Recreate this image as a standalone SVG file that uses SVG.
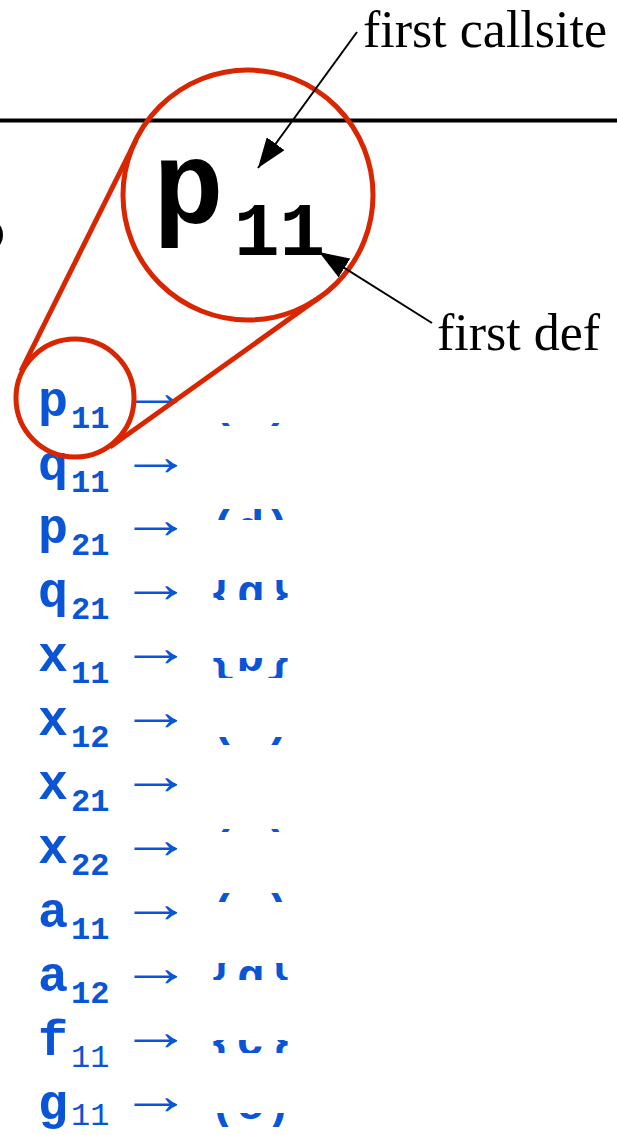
<svg xmlns="http://www.w3.org/2000/svg" width="617" height="1135" viewBox="0 0 617 1135">
<style>
.lbl{font-family:"Liberation Serif","Times New Roman",serif;font-size:52px;fill:#000}
.big{font-family:"Courier New","Liberation Mono",monospace;font-weight:bold;fill:#000}
.var{font-family:"Courier New","Liberation Mono",monospace;font-weight:bold;font-size:50px;fill:#0a54d6}
.sub{font-family:"Courier New","Liberation Mono",monospace;font-weight:bold;font-size:32px;fill:#0a54d6}
.subn{font-family:"Courier New","Liberation Mono",monospace;font-weight:normal;font-size:32px;fill:#0a54d6}
.arr{font-family:"Liberation Serif","Times New Roman",serif;font-size:56px;fill:#0a54d6}
.set{font-family:"Courier New","Liberation Mono",monospace;font-weight:bold;font-size:46px;fill:#0a54d6}
.red{fill:none;stroke:#d92500;stroke-width:5}
.blk{stroke:#000;stroke-width:2;fill:none}
</style>
<defs>
<marker id="ah" viewBox="0 0 30 22" refX="30" refY="11" markerWidth="30" markerHeight="22" markerUnits="userSpaceOnUse" orient="auto">
<path d="M0,0 L30,11 L0,22 z" fill="#000"/>
</marker>
<clipPath id="bands">
<rect x="200" y="423" width="100" height="5"/>
<rect x="200" y="508" width="100" height="12"/>
<rect x="200" y="580" width="100" height="20"/>
<rect x="200" y="658" width="100" height="20"/>
<rect x="200" y="737" width="100" height="9"/>
<rect x="200" y="827" width="100" height="5"/>
<rect x="200" y="890" width="100" height="12"/>
<rect x="200" y="963" width="100" height="17"/>
<rect x="200" y="1040" width="100" height="13"/>
<rect x="200" y="1113" width="100" height="14"/>
</clipPath>
</defs>
<line x1="0" y1="120.5" x2="617" y2="120.5" stroke="#000" stroke-width="4"/>
<ellipse cx="-3" cy="235" rx="6" ry="11" fill="#000"/>
<g id="label-callsite"><text class="lbl" x="363" y="47">first callsite</text></g>
<g id="label-def"><text class="lbl" x="437" y="350">first def</text></g>
<g id="zoom-p11">
<text class="big" x="153" y="223" font-size="118">p</text>
<text class="big" x="234" y="255" font-size="76">11</text>
</g>
<g id="list">
<g id="row-p11"><text class="var" x="38" y="416">p</text><text class="sub" x="71" y="428">11</text><text class="arr" transform="translate(120,411) scale(1.29,1)">→</text></g>
<g id="row-q11"><text class="var" x="38" y="480">q</text><text class="sub" x="71" y="492">11</text><text class="arr" transform="translate(120,475) scale(1.29,1)">→</text></g>
<g id="row-p21"><text class="var" x="38" y="543">p</text><text class="sub" x="71" y="555">21</text><text class="arr" transform="translate(120,538) scale(1.29,1)">→</text></g>
<g id="row-q21"><text class="var" x="38" y="607">q</text><text class="sub" x="71" y="619">21</text><text class="arr" transform="translate(120,602) scale(1.29,1)">→</text></g>
<g id="row-x11"><text class="var" x="38" y="671">x</text><text class="sub" x="71" y="683">11</text><text class="arr" transform="translate(120,666) scale(1.29,1)">→</text></g>
<g id="row-x12"><text class="var" x="38" y="735">x</text><text class="sub" x="71" y="747">12</text><text class="arr" transform="translate(120,730) scale(1.29,1)">→</text></g>
<g id="row-x21"><text class="var" x="38" y="799">x</text><text class="sub" x="71" y="811">21</text><text class="arr" transform="translate(120,794) scale(1.29,1)">→</text></g>
<g id="row-x22"><text class="var" x="38" y="863">x</text><text class="sub" x="71" y="875">22</text><text class="arr" transform="translate(120,858) scale(1.29,1)">→</text></g>
<g id="row-a11"><text class="var" x="38" y="927">a</text><text class="sub" x="71" y="939">11</text><text class="arr" transform="translate(120,922) scale(1.29,1)">→</text></g>
<g id="row-a12"><text class="var" x="38" y="991">a</text><text class="sub" x="71" y="1003">12</text><text class="arr" transform="translate(120,986) scale(1.29,1)">→</text></g>
<g id="row-f11"><text class="var" x="38" y="1055">f</text><text class="subn" x="71" y="1067">11</text><text class="arr" transform="translate(120,1050) scale(1.29,1)">→</text></g>
<g id="row-g11"><text class="var" x="38" y="1119">g</text><text class="subn" x="71" y="1125">11</text><text class="arr" transform="translate(120,1114) scale(1.29,1)">→</text></g>
</g>
<g id="sets" clip-path="url(#bands)">
<text class="set" x="209" y="416">( )</text>
<text class="set" x="209" y="543">(d)</text>
<text class="set" x="209" y="607">{g}</text>
<text class="set" x="209" y="671">{b}</text>
<text class="set" x="209" y="735">( )</text>
<text class="set" x="209" y="863">( )</text>
<text class="set" x="209" y="927">(c)</text>
<text class="set" x="209" y="991">{g}</text>
<text class="set" x="209" y="1055">{c}</text>
<text class="set" x="209" y="1119">(e)</text>
</g>
<g id="magnifier">
<circle class="red" cx="248" cy="195" r="125"/>
<circle class="red" cx="75" cy="398" r="59"/>
<line class="red" x1="21" y1="371" x2="136" y2="140"/>
<line class="red" x1="110" y1="447" x2="320" y2="297"/>
</g>
<g id="connectors">
<line class="blk" x1="357" y1="32" x2="258" y2="168" marker-end="url(#ah)"/>
<line class="blk" x1="432" y1="323" x2="319" y2="252" marker-end="url(#ah)"/>
</g>
</svg>
